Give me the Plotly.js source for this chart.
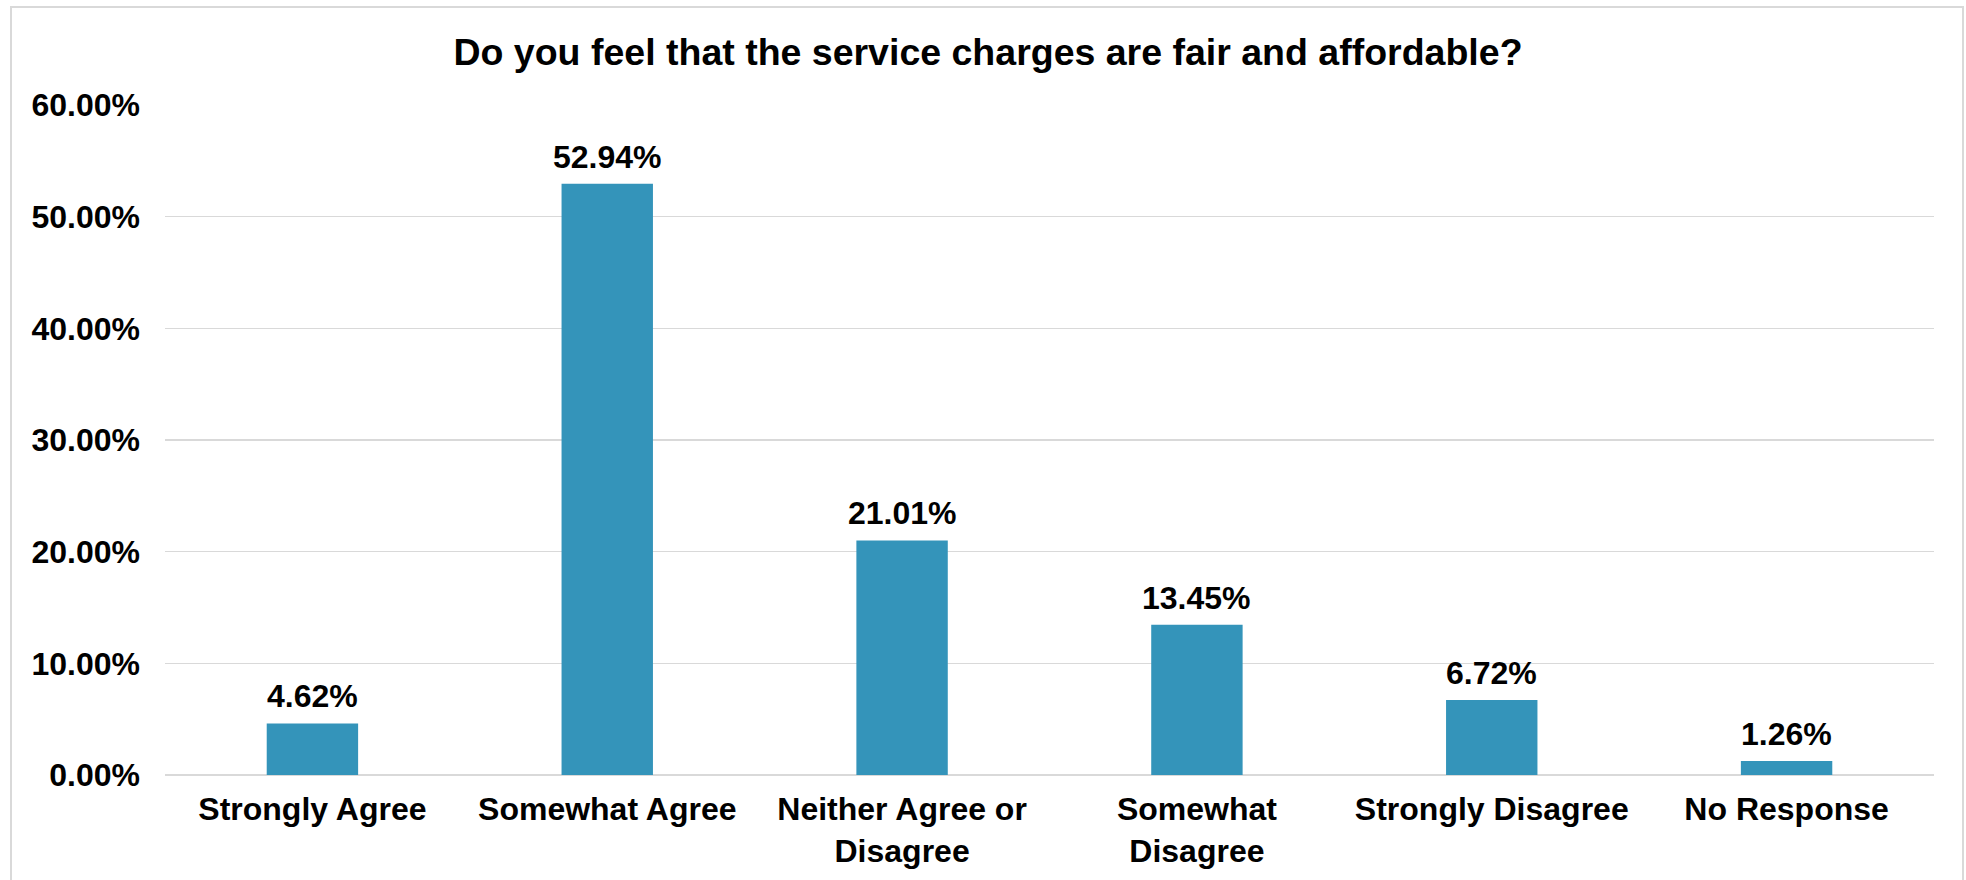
<!DOCTYPE html>
<html>
<head>
<meta charset="utf-8">
<script src="https://cdn.plot.ly/plotly-3.0.1.min.js"></script>
<style>
  html, body { margin: 0; padding: 0; background: #ffffff; }
  #chart { width: 1966px; height: 880px; }
</style>
</head>
<body>
<div id="chart"></div>
<script>
const chartTitle = "Do you feel that the service charges are fair and affordable?";
const categories = ["Strongly Agree", "Somewhat Agree", "Neither Agree or<br>Disagree", "Somewhat<br>Disagree", "Strongly Disagree", "No Response"];
const percentages = [4.62, 52.94, 21.01, 13.45, 6.72, 1.26];
const yTicks = [0, 10, 20, 30, 40, 50, 60];

const FONT = "Liberation Sans, Arial, sans-serif";
const W = 1966, H = 880;
const L = 165, R = 32, T = 105, B = 105;
const pw = W - L - R, ph = H - T - B;
const px = v => (v - L) / pw;
const py = v => (H - B - v) / ph;

const trace = {
  type: "bar",
  x: categories,
  y: percentages,
  marker: { color: "#3494BA" },
  width: 0.31,
  cliponaxis: false,
  hoverinfo: "skip"
};

const valueLabels = categories.map((c, i) => ({
  x: c, y: percentages[i],
  xref: "x", yref: "y",
  text: "<b>" + percentages[i].toFixed(2) + "%</b>",
  showarrow: false,
  yanchor: "middle",
  yshift: 27,
  font: { family: FONT, size: 32, color: "#000000" }
}));

const layout = {
  width: W, height: H,
  margin: { l: L, r: R, t: T, b: B },
  paper_bgcolor: "#ffffff",
  plot_bgcolor: "#ffffff",
  showlegend: false,
  font: { family: FONT, color: "#000000" },
  title: {
    text: "<b>" + chartTitle + "</b>",
    font: { family: FONT, size: 37.5, color: "#000000" },
    xref: "container", x: 988 / W, xanchor: "center",
    yref: "container", y: (H - 52) / H, yanchor: "middle"
  },
  xaxis: {
    type: "category",
    showgrid: false,
    showline: false,
    zeroline: false,
    ticks: "",
    tickfont: { family: FONT, size: 32, color: "#000000", weight: "bold" },
    ticklabelstandoff: 12
  },
  yaxis: {
    range: [0, 60],
    tickvals: yTicks,
    ticktext: yTicks.map(v => v.toFixed(2) + "%"),
    showgrid: true,
    gridcolor: "#D9D9D9",
    gridwidth: 1.5,
    zeroline: true,
    zerolinecolor: "#D9D9D9",
    zerolinewidth: 1.5,
    showline: false,
    ticks: "",
    tickfont: { family: FONT, size: 32, color: "#000000", weight: "bold" },
    ticklabelstandoff: 24
  },
  annotations: valueLabels,
  shapes: [{
    type: "rect",
    xref: "paper", yref: "paper",
    x0: px(11), x1: px(1963), y0: py(7), y1: py(890),
    line: { color: "#D9D9D9", width: 2 },
    fillcolor: "rgba(0,0,0,0)",
    layer: "below"
  }]
};

Plotly.newPlot("chart", [trace], layout, { displayModeBar: false, staticPlot: true });
</script>
</body>
</html>
